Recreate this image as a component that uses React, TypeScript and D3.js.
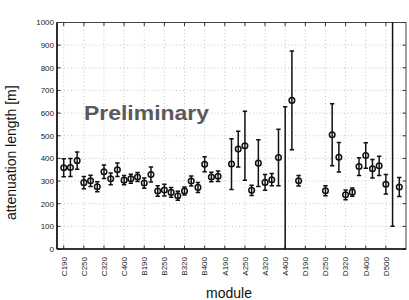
import React from 'react';
import * as d3 from 'd3';

// module slot (1..51), measured attenuation length and its error
const slots = [
  1, 2, 3, 4, 5, 6, 7, 8, 9, 10, 11, 12,
  13, 14, 15, 16, 17, 18, 19, 20, 21, 22, 23, 24,
  26, 27, 28, 29, 30, 31, 32, 33, 34, 35,
  36, 40, 41, 42, 43, 44, 45, 46, 47, 48, 49, 50, 51,
];
const values = [
  359, 360, 390, 293, 301, 275, 341, 310, 350, 304, 310, 318,
  291, 329, 256, 260, 250, 235, 256, 300, 272, 374, 318, 321,
  375, 441, 456, 259, 379, 294, 306, 404, -150, 656,
  301, 257, 504, 405, 239, 251, 364, 413, 354, 367, 286, 1150, 274,
];
const errors = [
  40, 40, 38, 27, 25, 22, 30, 26, 30, 20, 20, 20,
  23, 33, 23, 26, 22, 20, 18, 22, 22, 33, 21, 23,
  112, 79, 152, 23, 103, 35, 27, 125, 778, 218,
  23, 22, 137, 65, 22, 18, 39, 56, 41, 42, 43, 1050, 42,
];

const tickSlots = [1, 4, 7, 10, 13, 16, 19, 22, 25, 28, 31, 34, 37, 40, 43, 46, 49];
const tickLabels = [
  'C190', 'C250', 'C320', 'C400', 'B190', 'B250', 'B320', 'B400',
  'A190', 'A250', 'A320', 'A400', 'D190', 'D250', 'D320', 'D400', 'D500',
];
const yTicks = [0, 100, 200, 300, 400, 500, 600, 700, 800, 900, 1000];

const W = 409, H = 300;
const left = 57, right = 406, top = 22.5, bottom = 249;
const font = '"Liberation Sans", Arial, Helvetica, sans-serif';

const App = () => {
  const x = d3.scaleLinear().domain([0, 52]).range([left, right]);
  const y = d3.scaleLinear().domain([0, 1000]).range([bottom, top]);

  const points = slots.map((s, i) => ({ s, v: values[i], e: errors[i] }));

  return (
    <svg width={W} height={H} style={{ position: 'absolute', left: 0, top: 0, background: '#fff' }}
      fontFamily={font}>
      <defs>
        <clipPath id="plotClip">
          <rect x={left} y={top} width={right - left} height={bottom - top} />
        </clipPath>
      </defs>

      {/* grid */}
      <g stroke="#b8b8b8" strokeWidth={0.8} strokeDasharray="1,2.5">
        {tickSlots.map(t => (
          <line key={'gx' + t} x1={x(t)} x2={x(t)} y1={top} y2={bottom} />
        ))}
        {yTicks.slice(1, -1).map(t => (
          <line key={'gy' + t} x1={left} x2={right} y1={y(t)} y2={y(t)} />
        ))}
      </g>

      {/* frame and ticks */}
      <rect x={left} y={top} width={right - left} height={bottom - top} fill="none" stroke="#444" strokeWidth={1} />
      <g stroke="#333" strokeWidth={1}>
        {tickSlots.map(t => (
          <g key={'tx' + t}>
            <line x1={x(t)} x2={x(t)} y1={bottom} y2={bottom - 3.5} />
            <line x1={x(t)} x2={x(t)} y1={top} y2={top + 3.5} />
          </g>
        ))}
        {yTicks.map(t => (
          <g key={'ty' + t}>
            <line x1={left} x2={left + 3.5} y1={y(t)} y2={y(t)} />
            <line x1={right} x2={right - 3.5} y1={y(t)} y2={y(t)} />
          </g>
        ))}
      </g>
      <line x1={left} x2={left} y1={top} y2={bottom} stroke="#111" strokeWidth={1.6} />
      <line x1={left} x2={right} y1={bottom} y2={bottom} stroke="#111" strokeWidth={1.6} />

      {/* y tick labels */}
      <g fontSize={8} fill="#222" textAnchor="end">
        {yTicks.map(t => (
          <text key={'yl' + t} x={left - 3} y={y(t)} dy="0.35em">{t}</text>
        ))}
      </g>

      {/* x tick labels */}
      <g fontSize={8} fill="#222" textAnchor="end">
        {tickLabels.map((l, i) => (
          <text key={l} transform={`translate(${x(tickSlots[i])},${bottom + 8}) rotate(-90)`} dy="0.35em">{l}</text>
        ))}
      </g>

      {/* watermark */}
      <text x={84} y={120} fontSize={20} fontWeight="bold" fill="#5a5a5a"
        textLength={125} lengthAdjust="spacingAndGlyphs">Preliminary</text>

      {/* data */}
      <g clipPath="url(#plotClip)" stroke="#111" fill="none" strokeWidth={1.5}>
        {points.map(p => {
          const cx = x(p.s);
          const y1 = y(p.v + p.e), y2 = y(p.v - p.e);
          return (
            <g key={'p' + p.s}>
              <line x1={cx} x2={cx} y1={y1} y2={y2} />
              <line x1={cx - 2.2} x2={cx + 2.2} y1={y1} y2={y1} />
              <line x1={cx - 2.2} x2={cx + 2.2} y1={y2} y2={y2} />
              <circle cx={cx} cy={y(p.v)} r={2.8} />
            </g>
          );
        })}
      </g>

      {/* axis titles */}
      <text transform={`translate(16,${(top + bottom) / 2 + 17}) rotate(-90)`} textAnchor="middle"
        fontSize={14} fill="#111">attenuation length [m]</text>
      <text x={229} y={298} textAnchor="middle" fontSize={14} fill="#111">module</text>
    </svg>
  );
};

export default App;
